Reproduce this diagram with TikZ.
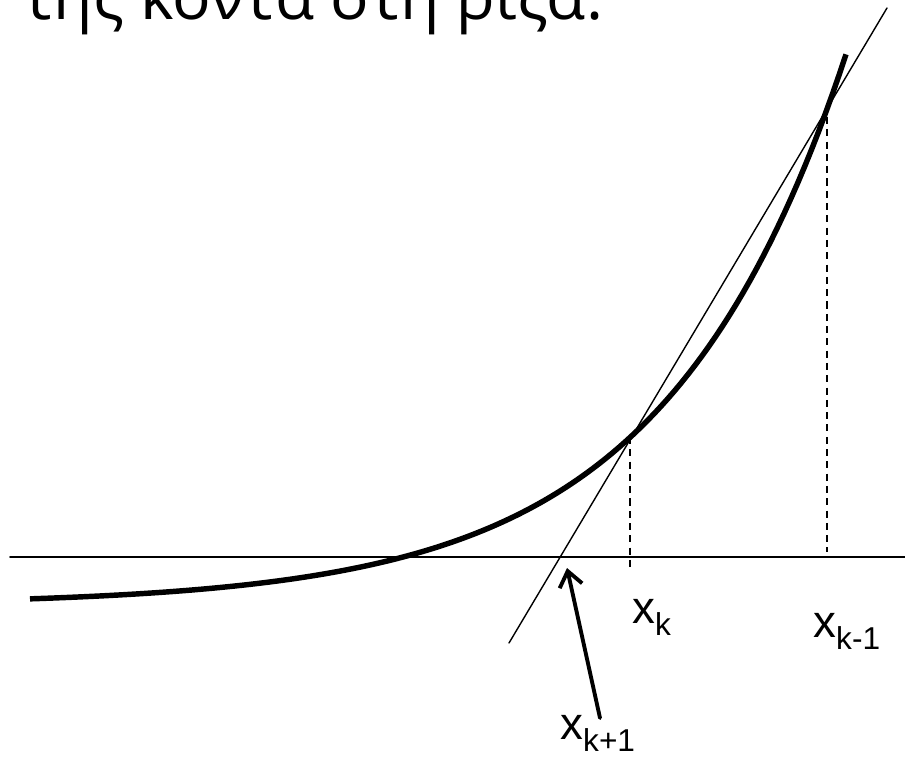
\documentclass[tikz,border=0pt]{standalone}
\usepackage{fontspec}
\setmainfont{Liberation Sans}
\newfontfamily\greekfont{Open Sans}
\usetikzlibrary{arrows.meta}
\newcommand{\lowr}[1]{\raisebox{-7pt}{\fontsize{18}{21}\selectfont #1}}

\begin{document}
\begin{tikzpicture}[x=0.02cm,y=-0.02cm,line cap=round,
  curve/.style={line width=3.1pt,line cap=butt},
  thin line/.style={line width=0.8pt},
  drop/.style={line width=0.8pt,dash pattern=on 4pt off 3pt,line cap=butt},
  label/.style={inner sep=0pt,anchor=base west,font=\fontsize{26}{30}\selectfont}]
\useasboundingbox (0,0) rectangle (905,760);
\clip (0,0) rectangle (905,760);
\node[inner sep=0pt,anchor=base west,font=\greekfont\fontsize{36.5}{42}\selectfont] (title) at (23,20) {της κοντά στη ρίζα.};
% axis
\draw[line width=1.1pt] (10,557) -- (905,557);
% curve f(x)
\draw[curve] plot[domain=30:846,samples=120] (\x,{605-exp(1.651+0.00551*\x)});
% secant
\coordinate (slo) at (509,643);
\coordinate (shi) at (887,8);
\draw[thin line] (slo) -- (shi);
\coordinate (pk) at (630,437);
\coordinate (fk) at (630,567);
\coordinate (pkm) at (827,117);
\coordinate (fkm) at (827,552);
\draw[drop] (pk) -- (fk);
\draw[drop] (pkm) -- (fkm);
% labels
\node[label] (xk) at (632,623) {x\lowr{k}};
\node[label] (xkm) at (813,637) {x\lowr{k-1}};
\node[label] (xkp) at (560,739) {x\lowr{k+1}};
\coordinate (tail) at (600,718);
\coordinate (root) at (567,568);
\draw[line width=2.2pt,-{Straight Barb[length=3mm,width=4.6mm]}] (tail) -- (root);
\end{tikzpicture}
\end{document}
